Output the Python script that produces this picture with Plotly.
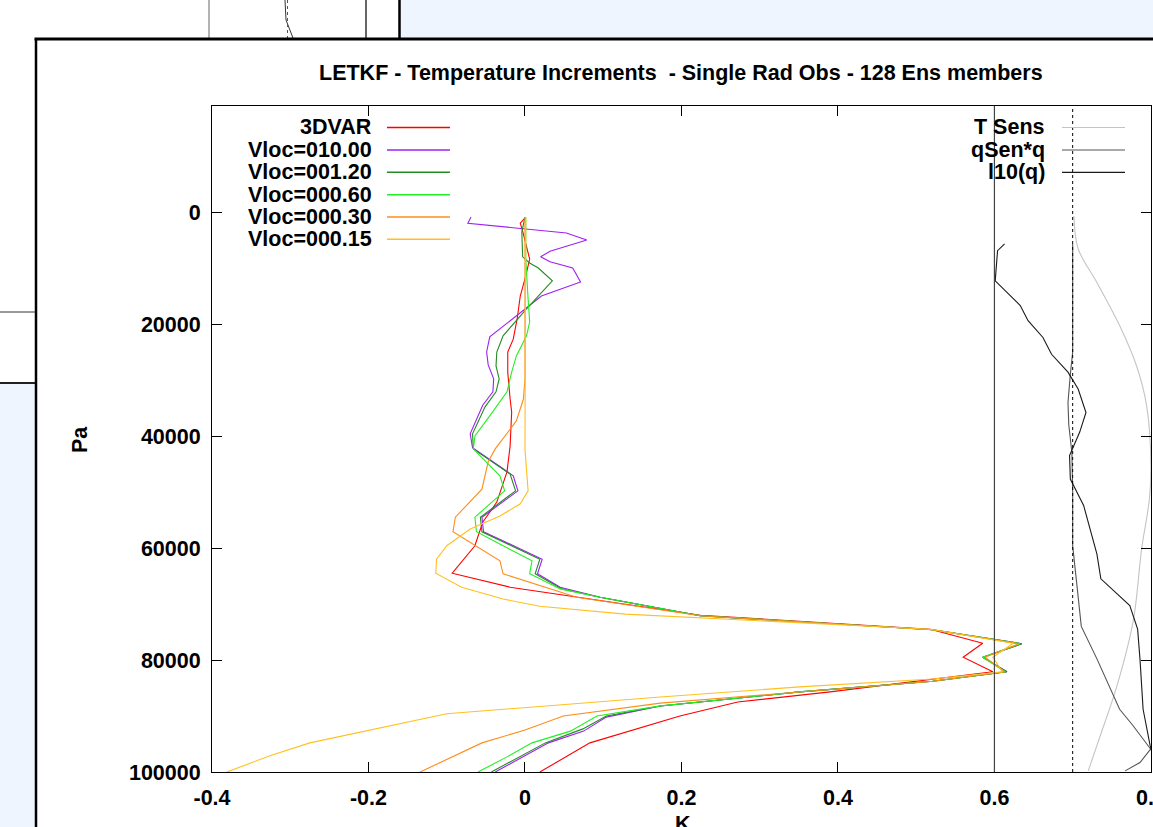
import plotly.graph_objects as go

# ---------------- data (pressure in Pa, increment in K) ----------------
p_3dvar = [900, 2000, 3400, 8400, 11400, 15000, 19100, 22700, 25000, 28600, 33400, 35700, 41800, 46400,
           51800, 55400, 59600, 64500, 67000, 68800, 72000, 74500, 77000, 79500, 82100, 85700, 87500,
           90000, 92500, 94800, 100000]
k_3dvar = [0.001, -0.006, -0.003, 0.006, 0.001, -0.006, -0.010, -0.015, -0.022, -0.022, -0.019, -0.017,
           -0.019, -0.023, -0.036, -0.054, -0.064, -0.093, -0.019, 0.067, 0.224, 0.518, 0.585, 0.560,
           0.598, 0.390, 0.272, 0.198, 0.138, 0.083, 0.019]

p_v1000 = [900, 2000, 3750, 5000, 7000, 8000, 8900, 10000, 12500, 15000, 22300, 25000, 27300, 29800,
           32100, 34500, 39600, 42100, 47100, 49800, 54500, 57100, 62000, 64600, 67000, 68800, 72100,
           74600, 77100, 79500, 82100, 83800, 85700, 88200, 90200, 92700, 94800, 100000]
k_v1000 = [-0.069, -0.073, 0.053, 0.079, 0.032, 0.020, 0.032, 0.061, 0.071, 0.021, -0.045, -0.049,
           -0.047, -0.040, -0.041, -0.054, -0.070, -0.067, -0.015, -0.009, -0.055, -0.053, 0.022, 0.016,
           0.045, 0.096, 0.224, 0.521, 0.635, 0.585, 0.616, 0.521, 0.351, 0.173, 0.104, 0.075, 0.030,
           -0.038]

p_v0120 = [900, 3600, 8000, 9100, 10000, 12300, 15000, 17300, 22100, 25000, 27500, 29800, 32100, 34800,
           39600, 42300, 46800, 49800, 54500, 57100, 62000, 64600, 67300, 68800, 72100, 74600, 77100,
           79500, 82100, 83800, 85700, 88200, 90000, 92300, 94800, 100000]
k_v0120 = [0.000, -0.004, -0.003, 0.006, 0.017, 0.035, 0.017, 0.002, -0.028, -0.036, -0.037, -0.033,
           -0.037, -0.051, -0.067, -0.066, -0.019, -0.012, -0.057, -0.055, 0.019, 0.013, 0.047, 0.096,
           0.224, 0.521, 0.635, 0.585, 0.616, 0.521, 0.351, 0.173, 0.104, 0.074, 0.026, -0.043]

p_v0060 = [900, 8400, 15500, 19600, 22100, 25700, 28600, 32100, 36400, 40000, 42300, 47100, 49800,
           54500, 57100, 62300, 64600, 67300, 68800, 72100, 74600, 77100, 79500, 82100, 83800, 85700,
           88200, 90000, 92700, 94800, 97300, 100000]
k_v0060 = [0.001, 0.001, 0.004, 0.006, 0.002, -0.011, -0.017, -0.023, -0.045, -0.064, -0.066, -0.032,
           -0.026, -0.064, -0.062, 0.009, 0.006, 0.045, 0.096, 0.224, 0.521, 0.633, 0.585, 0.614, 0.521,
           0.351, 0.173, 0.092, 0.058, 0.009, -0.023, -0.060]

p_v0030 = [900, 29800, 33400, 37300, 38800, 42300, 44600, 49500, 54500, 57100, 62300, 64600, 68800,
           72100, 74600, 77100, 79500, 82100, 83800, 85700, 87700, 90000, 92500, 94800, 97700, 100000]
k_v0030 = [0.000, 0.000, -0.002, -0.011, -0.019, -0.038, -0.047, -0.055, -0.089, -0.092, -0.032,
           -0.028, 0.066, 0.224, 0.521, 0.631, 0.588, 0.613, 0.521, 0.351, 0.173, 0.049, 0.000, -0.055,
           -0.100, -0.134]

p_v0015 = [900, 35700, 42300, 49800, 52100, 54300, 56600, 59600, 62000, 64500, 67000, 69100, 70400,
           71800, 74500, 77000, 79500, 82100, 83400, 84800, 86600, 89600, 94800, 97100, 100000]
k_v0015 = [0.001, 0.000, 0.000, 0.004, -0.006, -0.032, -0.070, -0.100, -0.113, -0.114, -0.081, -0.028,
           0.019, 0.128, 0.518, 0.624, 0.598, 0.610, 0.521, 0.351, 0.173, -0.100, -0.275, -0.326, -0.381]

p_tsens = [700, 6600, 12500, 20400, 27500, 34600, 45000, 51300, 60200, 73000, 84800, 93700, 99800]
k_tsens = [0.7016, 0.7071, 0.7306, 0.7604, 0.7817, 0.7945, 0.8000, 0.7980, 0.7881, 0.7774, 0.7562,
           0.7348, 0.7199]

p_qsen = [5700, 25000, 29000, 34000, 38000, 43000, 50000, 59600, 66100, 74000, 79800, 88800, 91700,
          95900, 98300, 99800]
k_qsen = [0.700, 0.700, 0.697, 0.694, 0.695, 0.699, 0.700, 0.700, 0.705, 0.711, 0.731, 0.760, 0.777,
          0.7996, 0.786, 0.767]

p_l10q = [5700, 6900, 12300, 16700, 19400, 22400, 25400, 28600, 31600, 35800, 39300, 43500, 47700,
          52400, 61100, 65500, 70300, 74500, 79800, 88800, 95300, 96400, 100000]
k_l10q = [0.613, 0.604, 0.601, 0.633, 0.643, 0.662, 0.673, 0.694, 0.707, 0.717, 0.709, 0.696, 0.697,
          0.714, 0.731, 0.736, 0.773, 0.783, 0.786, 0.790, 0.799, 0.801, 0.801]

vline_solid = 0.6
vline_dotted = 0.7

x_ticks = [-0.4, -0.2, 0, 0.2, 0.4, 0.6, 0.8]
x_ticktext = ["-0.4", "-0.2", "0", "0.2", "0.4", "0.6", "0.8"]
y_ticks = [0, 20000, 40000, 60000, 80000, 100000]
y_ticktext = ["0", "20000", "40000", "60000", "80000", "100000"]

title_text = "LETKF - Temperature Increments \u00a0- Single Rad Obs - 128 Ens members"

series_left = [
    ("3DVAR", p_3dvar, k_3dvar, "#ff0000"),
    ("Vloc=010.00", p_v1000, k_v1000, "#a020f0"),
    ("Vloc=001.20", p_v0120, k_v0120, "#228b22"),
    ("Vloc=000.60", p_v0060, k_v0060, "#22f022"),
    ("Vloc=000.30", p_v0030, k_v0030, "#ff8c1a"),
    ("Vloc=000.15", p_v0015, k_v0015, "#ffc020"),
]
series_right = [
    ("T Sens", p_tsens, k_tsens, "#c4c4c4", "spline"),
    ("qSen*q", p_qsen, k_qsen, "#555555", "linear"),
    ("l10(q)", p_l10q, k_l10q, "#1a1a1a", "linear"),
]

# ---------------- layout geometry (pixels) ----------------
W, H = 1153, 827
L, R, T, B = 212, 2, 106, 55
PW, PH = W - L - R, H - T - B
FONT = "Liberation Sans, Arial, sans-serif"
FS = 21.5
TXT = dict(family=FONT, size=FS, color="black", weight="bold")


def px(x):
    return (x - L) / PW


def py(y):
    return (H - B - y) / PH


fig = go.Figure()

for name, p, k, c in series_left:
    fig.add_trace(go.Scatter(x=k, y=p, mode="lines", name=name,
                             line=dict(color=c, width=1.1), showlegend=False))
for name, p, k, c, shp in series_right:
    fig.add_trace(go.Scatter(x=k, y=p, mode="lines", name=name,
                             line=dict(color=c, width=1.1, shape=shp), showlegend=False))

shapes = []
# reference vertical lines (data x)
shapes.append(dict(type="line", xref="x", yref="paper", x0=vline_solid, x1=vline_solid, y0=0, y1=1,
                   line=dict(color="#444444", width=1.2)))
shapes.append(dict(type="line", xref="x", yref="paper", x0=vline_dotted, x1=vline_dotted, y0=0, y1=1,
                   line=dict(color="#000000", width=1, dash="dot")))

# legend samples and labels
annotations = []
rows_left = [127.5, 150, 172.3, 194.7, 217, 239.3]
for (name, p, k, c), yy in zip(series_left, rows_left):
    shapes.append(dict(type="line", xref="paper", yref="paper", x0=px(387), x1=px(450), y0=py(yy), y1=py(yy),
                       line=dict(color=c, width=1.5)))
    annotations.append(dict(text=name, xref="paper", yref="paper", x=px(374), y=py(yy), xanchor="right",
                            yanchor="middle", showarrow=False, font=TXT))
rows_right = [127.5, 150, 172.3]
for (name, p, k, c, shp), yy in zip(series_right, rows_right):
    shapes.append(dict(type="line", xref="paper", yref="paper", x0=px(1062), x1=px(1125), y0=py(yy), y1=py(yy),
                       line=dict(color=c, width=1.2)))
    annotations.append(dict(text=name, xref="paper", yref="paper", x=px(1047), y=py(yy), xanchor="right",
                            yanchor="middle", showarrow=False, font=TXT))

# title and axis titles
annotations.append(dict(text=title_text, xref="paper", yref="paper", x=px(681), y=py(73), xanchor="center",
                        yanchor="middle", showarrow=False, font=TXT))
annotations.append(dict(text="Pa", xref="paper", yref="paper", x=px(80), y=py(440), xanchor="center",
                        yanchor="middle", showarrow=False, textangle=-90, font=TXT))
annotations.append(dict(text="K", xref="paper", yref="paper", x=px(683), y=py(824), xanchor="center",
                        yanchor="middle", showarrow=False, font=TXT))

# background windows of the screenshot
BLUE = "#eef5fe"
shapes += [
    dict(type="rect", xref="paper", yref="paper", x0=px(400), x1=px(W), y0=py(0), y1=py(38),
         fillcolor=BLUE, line=dict(width=0), layer="below"),
    dict(type="rect", xref="paper", yref="paper", x0=px(0), x1=px(35), y0=py(383), y1=py(H),
         fillcolor=BLUE, line=dict(width=0), layer="below"),
    dict(type="line", xref="paper", yref="paper", x0=px(209), x1=px(209), y0=py(0), y1=py(38),
         line=dict(color="#666666", width=1)),
    dict(type="line", xref="paper", yref="paper", x0=px(366), x1=px(366), y0=py(0), y1=py(38),
         line=dict(color="#333333", width=1.5)),
    dict(type="line", xref="paper", yref="paper", x0=px(399.5), x1=px(399.5), y0=py(0), y1=py(38),
         line=dict(color="#000000", width=2.5)),
    dict(type="path", xref="paper", yref="paper",
         path=f"M {px(285)},{py(0)} L {px(286)},{py(20)} L {px(293)},{py(38)}",
         line=dict(color="#333333", width=1)),
    dict(type="line", xref="paper", yref="paper", x0=px(287.5), x1=px(287.5), y0=py(0), y1=py(38),
         line=dict(color="#555555", width=1, dash="dot")),
    dict(type="line", xref="paper", yref="paper", x0=px(0), x1=px(35), y0=py(312), y1=py(312),
         line=dict(color="#333333", width=1)),
    dict(type="line", xref="paper", yref="paper", x0=px(0), x1=px(35), y0=py(383), y1=py(383),
         line=dict(color="#222222", width=2)),
    dict(type="line", xref="paper", yref="paper", x0=px(34.5), x1=px(W), y0=py(39), y1=py(39),
         line=dict(color="#000000", width=3)),
    dict(type="line", xref="paper", yref="paper", x0=px(36), x1=px(36), y0=py(39), y1=py(H),
         line=dict(color="#000000", width=2.5)),
]

axis_common = dict(showline=True, linecolor="black", linewidth=1, mirror="allticks", ticks="inside",
                   ticklen=10, tickwidth=1, tickcolor="black", showgrid=False, zeroline=False,
                   tickfont=TXT, ticklabeloverflow="allow", automargin=False)

fig.update_layout(
    width=W, height=H,
    margin=dict(l=L, r=R, t=T, b=B, pad=0, autoexpand=False),
    paper_bgcolor="white", plot_bgcolor="white",
    showlegend=False,
    xaxis=dict(range=[-0.4, 0.8001], tickvals=x_ticks, ticktext=x_ticktext, ticklabelstandoff=6,
               **axis_common),
    yaxis=dict(range=[100000, -18930], tickvals=y_ticks, ticktext=y_ticktext, ticklabelstandoff=6,
               **axis_common),
    shapes=shapes,
    annotations=annotations,
)

fig.write_html("out.html", config={"displayModeBar": False},
               post_script="document.body.style.margin='0';document.body.style.overflow='hidden';")
